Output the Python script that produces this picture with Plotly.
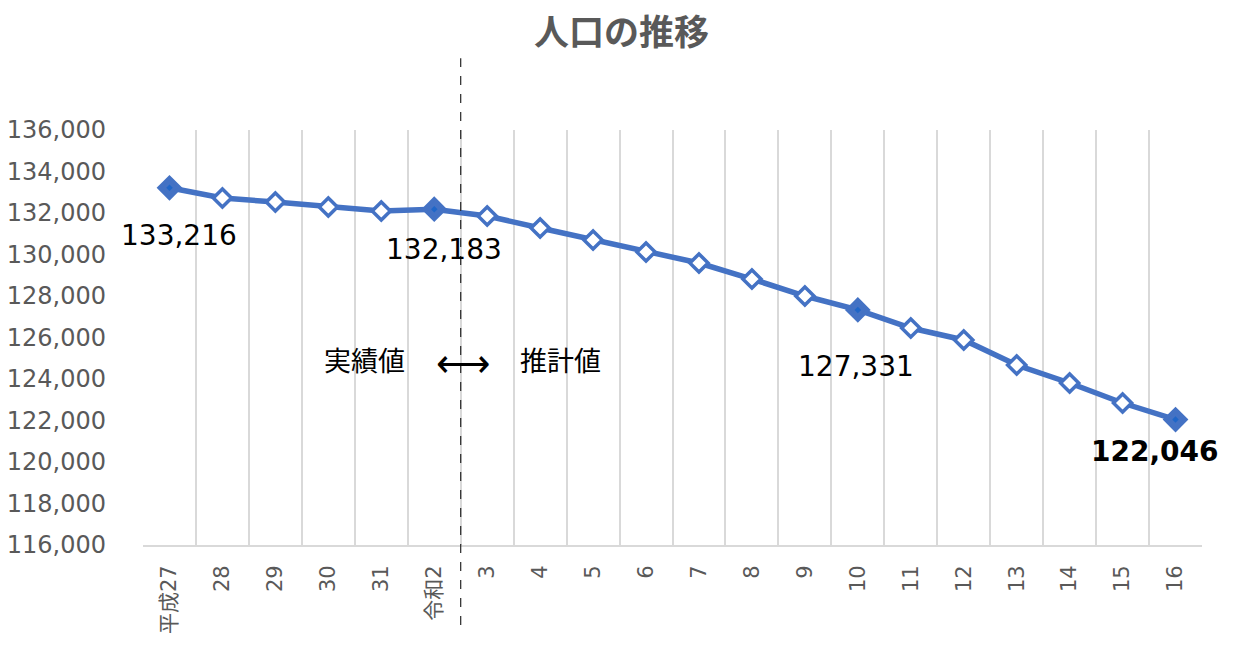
import plotly.graph_objects as go

categories = ["平成27", "28", "29", "30", "31", "令和2", "3", "4", "5", "6",
              "7", "8", "9", "10", "11", "12", "13", "14", "15", "16"]
population = [133216, 132723, 132530, 132289, 132096, 132183, 131855, 131277,
              130699, 130120, 129590, 128819, 128000, 127331, 126458, 125880,
              124675, 123807, 122843, 122046]
labeled_idx = [0, 5, 13, 19]
y_ticks = list(range(116000, 136001, 2000))

BLUE = "#4472C4"
GRAY = "#595959"
JP = "Noto Sans CJK JP"
NUM = "DejaVu Sans, Noto Sans CJK JP"

fill_colors = [BLUE if i in labeled_idx else "white" for i in range(len(categories))]
sizes = [16 if i in labeled_idx else 14 for i in range(len(categories))]

fig = go.Figure()
fig.add_trace(go.Scatter(
    x=categories, y=population, mode="lines+markers",
    line=dict(color=BLUE, width=5.5),
    marker=dict(symbol="diamond", size=sizes, color=fill_colors, opacity=1,
                line=dict(color=BLUE, width=3.5)),
    showlegend=False, hoverinfo="skip",
))
fig.add_trace(go.Scatter(
    x=[categories[i] for i in labeled_idx], y=[population[i] for i in labeled_idx],
    mode="markers", marker=dict(symbol="diamond", size=5, color="#1F66C8", opacity=1),
    showlegend=False, hoverinfo="skip",
))

label_shifts = {0: (10, -48, False), 5: (10, -40, False), 13: (-2, -57, False), 19: (-21, -32, True)}
for i, (dx, dy, bold) in label_shifts.items():
    txt = f"{population[i]:,}"
    if bold:
        txt = f"<b>{txt}</b>"
    fig.add_annotation(x=i, y=population[i], text=txt, showarrow=False, xanchor="center",
                       xshift=dx, yshift=dy, font=dict(family=NUM, size=28, color="black"))

for txt, px, sz in [("実績値", 0.2096, 27), ("⟷", 0.302, 38), ("推計値", 0.3947, 27)]:
    fig.add_annotation(xref="paper", yref="paper", x=px, y=0.4458, text=txt,
                       xanchor="center", yanchor="middle",
                       showarrow=False, font=dict(family=JP, size=sz, color="black"))

# chart title
fig.add_annotation(xref="paper", yref="paper", x=0.4523, y=1.243, text="<b>人口の推移</b>",
                   xanchor="center", yanchor="middle", showarrow=False,
                   font=dict(family=JP, size=35, color=GRAY))

fig.add_shape(type="line", xref="x", yref="paper", x0=5.5, x1=5.5, y0=-0.193, y1=1.173,
              line=dict(color="#262626", width=1.2, dash="dash"))

fig.update_layout(
    width=1225, height=638,
    margin=dict(l=135, r=31, t=122, b=101),
    paper_bgcolor="white", plot_bgcolor="white",
    xaxis=dict(type="category", tickson="boundaries", showgrid=True, gridcolor="#D9D9D9",
               gridwidth=1.8, tickangle=-90, ticks="", showline=True, linecolor="#D9D9D9",
               linewidth=1.8, tickfont=dict(family=NUM, size=21, color=GRAY),
               ticklabelstandoff=10, automargin=False, range=[-0.5, 19.5]),
    yaxis=dict(range=[116000, 136000], tickvals=y_ticks, tickformat=",", showgrid=False,
               zeroline=False, ticks="", ticklabelstandoff=36, automargin=False,
               tickfont=dict(family=NUM, size=24, color=GRAY)),
)

fig.write_html("out.html")
